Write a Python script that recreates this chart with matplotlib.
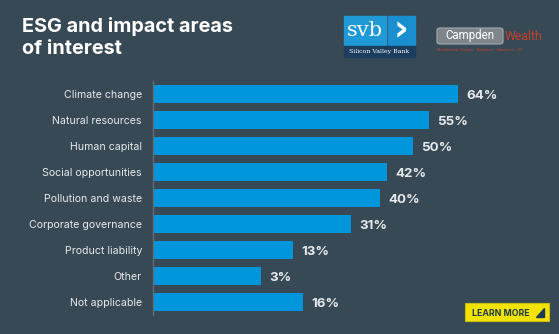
import matplotlib.pyplot as plt
from matplotlib.patches import FancyBboxPatch, Rectangle, Polygon
import numpy as np

plt.rcParams['font.family'] = ['Inter', 'DejaVu Sans']

categories = ['Climate change', 'Natural resources', 'Human capital', 'Social opportunities',
              'Pollution and waste', 'Corporate governance', 'Product liability', 'Other',
              'Not applicable']
shares = [64, 55, 50, 42, 40, 31, 13, 3, 16]

BG = '#374955'
BAR = '#0096DB'
TEXT = '#E6EAED'

W, H = 559, 334
fig = plt.figure(figsize=(W / 100, H / 100), dpi=100, facecolor=BG)

def fx(px):
    return px / W

def fy(py):
    return 1 - py / H

# bar chart area (axis baseline sits left of zero)
base = -30.5
ax = fig.add_axes([fx(153), fy(315), fx(W - 153), (315 - 81) / H])
ax.set_facecolor(BG)
y = np.arange(len(categories))
ax.barh(y, np.array(shares) - base, left=base, height=0.69, color=BAR)
ax.set_xlim(base, 95.4)
ax.set_ylim(len(categories) - 0.5, -0.5)
for s in ['top', 'right', 'bottom']:
    ax.spines[s].set_visible(False)
ax.spines['left'].set_color('#5F707B')
ax.spines['left'].set_linewidth(1.0)
ax.set_xticks([])
ax.set_yticks(y)
ax.set_yticklabels(categories, fontsize=7.6, color=TEXT)
ax.tick_params(axis='y', length=0, pad=8)

for yi, v in zip(y, shares):
    ax.annotate(f'{v}%', (v, yi), xytext=(6, -1.2), textcoords='offset points',
                va='center', ha='left', fontsize=9.6, fontweight='bold', color=TEXT)

# title
fig.text(fx(22), fy(17), 'ESG and impact areas\nof interest', ha='left', va='top',
         fontsize=14.3, fontweight='bold', color='white', linespacing=1.25)

# svb logo
fig.patches.append(Rectangle((fx(344), fy(45)), fx(42), (45 - 16) / H,
                             transform=fig.transFigure, color='#1F9AD6'))
fig.patches.append(Rectangle((fx(388), fy(45)), fx(27), (45 - 16) / H,
                             transform=fig.transFigure, color='#1A8FD0'))
fig.patches.append(Rectangle((fx(344), fy(57)), fx(71), (57 - 46) / H,
                             transform=fig.transFigure, color='#1C3E5E'))
fig.text(fx(365), fy(31), 'svb', ha='center', va='center', fontsize=15,
         color='white', family='DejaVu Serif')
fig.text(fx(401.5), fy(30), '\u203a', ha='center', va='center', fontsize=26,
         color='white', fontweight='bold', family='DejaVu Sans')
fig.text(fx(379.5), fy(51.5), 'Silicon Valley Bank', ha='center', va='center',
         fontsize=4.5, color='white', family='DejaVu Serif')

# campden wealth logo
fig.patches.append(FancyBboxPatch((fx(437), fy(44)), fx(66), (44 - 28) / H,
                                  boxstyle='round,pad=0,rounding_size=0.006',
                                  transform=fig.transFigure, facecolor='#7E868C',
                                  edgecolor='#A3A9AD', linewidth=0.8))
fig.text(fx(470), fy(36), 'Campden', ha='center', va='center', fontsize=8.3,
         color='white', family='Roboto')
fig.text(fx(505), fy(36), 'Wealth', ha='left', va='center', fontsize=8.8,
         color='#C4412A', family='Roboto')
fig.text(fx(437), fy(50), 'Membership | Events    Research    Education    IFI', ha='left',
         va='center', fontsize=2.8, color='#C4412A', family='Roboto')

# learn more button
fig.patches.append(Rectangle((fx(465), fy(321)), fx(84), (321 - 303) / H,
                             transform=fig.transFigure, facecolor='#F2E300',
                             edgecolor='#C9BE10', linewidth=0.8))
fig.text(fx(472), fy(313), 'LEARN MORE', ha='left', va='center', fontsize=6.3,
         fontweight='bold', color='#1D3A55')
fig.patches.append(Polygon([(fx(536), fy(317)), (fx(544), fy(317)), (fx(544), fy(308))],
                           closed=True, transform=fig.transFigure, color='#1D3A55'))

fig.savefig('out.png', dpi=100, facecolor=BG)
